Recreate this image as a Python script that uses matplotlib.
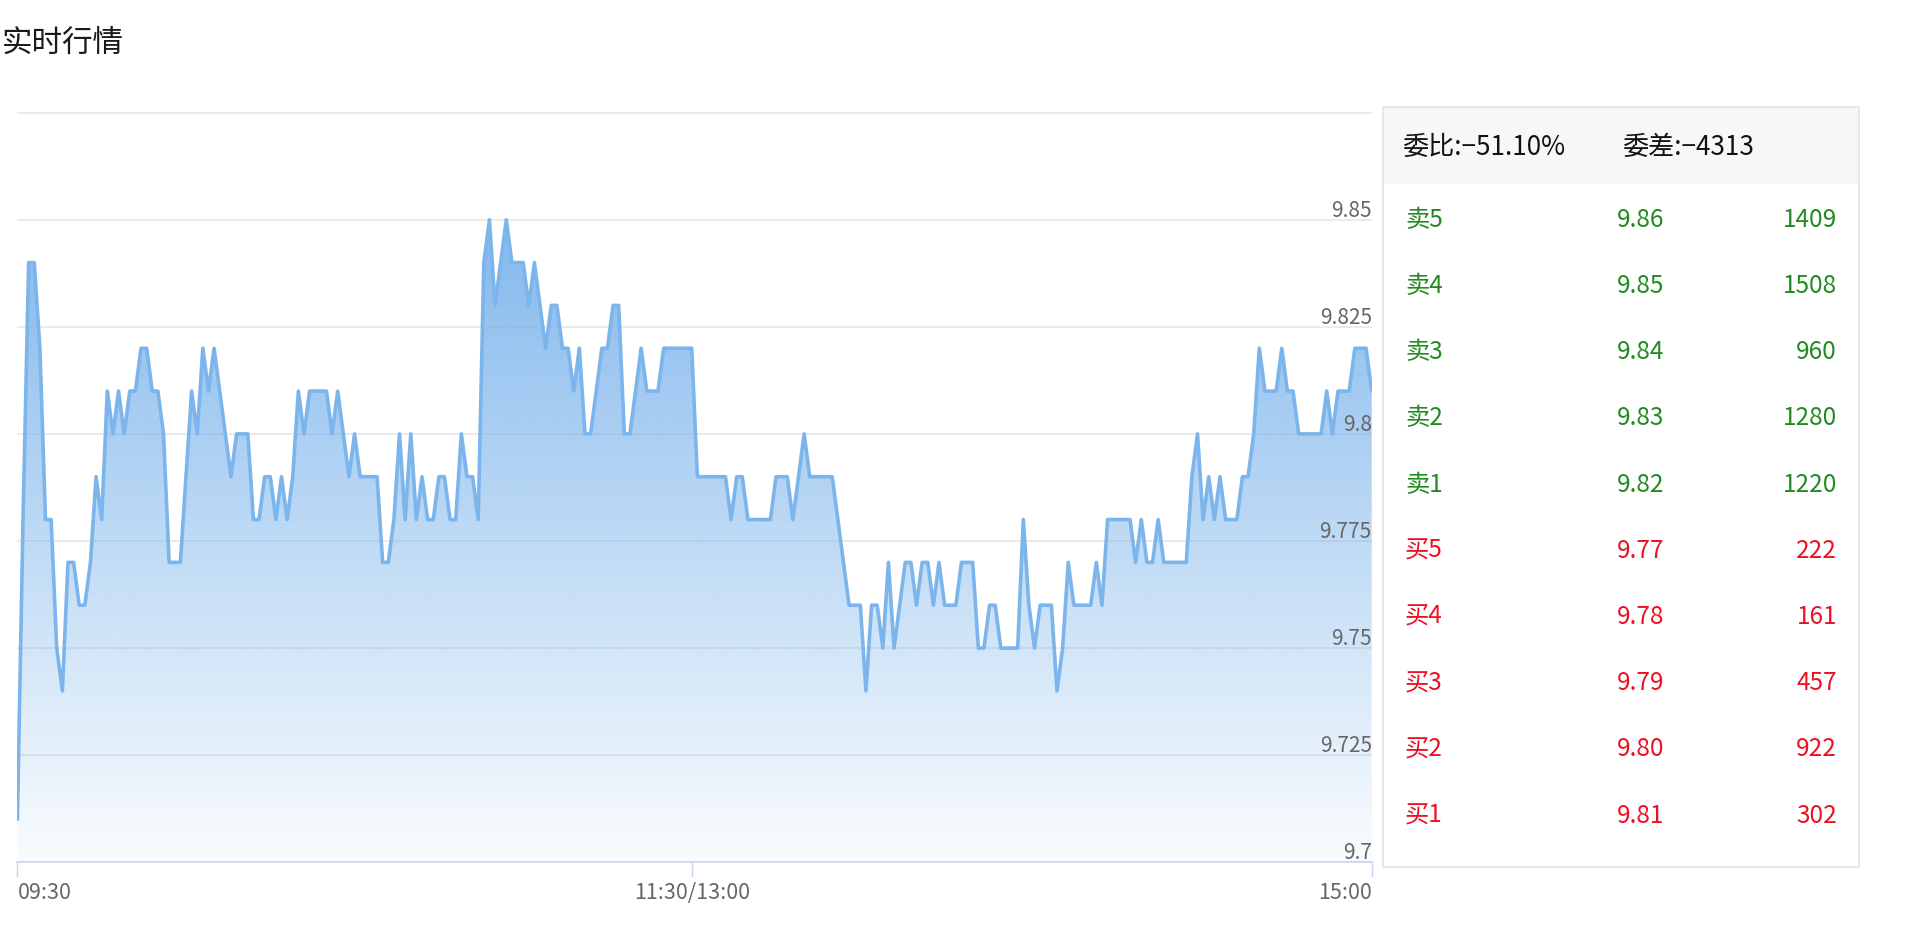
import numpy as np
import matplotlib
matplotlib.use('Agg')
import matplotlib.pyplot as plt
from matplotlib.patches import Rectangle, PathPatch

plt.rcParams['font.family'] = ['Noto Sans CJK SC', 'DejaVu Sans']

# ---------------- data ----------------
title = '实时行情'

prices = [
    9.71, 9.78, 9.84, 9.84, 9.82, 9.78, 9.78, 9.75, 9.74, 9.77,
    9.77, 9.76, 9.76, 9.77, 9.79, 9.78, 9.81, 9.80, 9.81, 9.80,
    9.81, 9.81, 9.82, 9.82, 9.81, 9.81, 9.80, 9.77, 9.77, 9.77,
    9.79, 9.81, 9.80, 9.82, 9.81, 9.82, 9.81, 9.80, 9.79, 9.80,
    9.80, 9.80, 9.78, 9.78, 9.79, 9.79, 9.78, 9.79, 9.78, 9.79,
    9.81, 9.80, 9.81, 9.81, 9.81, 9.81, 9.80, 9.81, 9.80, 9.79,
    9.80, 9.79, 9.79, 9.79, 9.79, 9.77, 9.77, 9.78, 9.80, 9.78,
    9.80, 9.78, 9.79, 9.78, 9.78, 9.79, 9.79, 9.78, 9.78, 9.80,
    9.79, 9.79, 9.78, 9.84, 9.85, 9.83, 9.84, 9.85, 9.84, 9.84,
    9.84, 9.83, 9.84, 9.83, 9.82, 9.83, 9.83, 9.82, 9.82, 9.81,
    9.82, 9.80, 9.80, 9.81, 9.82, 9.82, 9.83, 9.83, 9.80, 9.80,
    9.81, 9.82, 9.81, 9.81, 9.81, 9.82, 9.82, 9.82, 9.82, 9.82,
    9.82, 9.79, 9.79, 9.79, 9.79, 9.79, 9.79, 9.78, 9.79, 9.79,
    9.78, 9.78, 9.78, 9.78, 9.78, 9.79, 9.79, 9.79, 9.78, 9.79,
    9.80, 9.79, 9.79, 9.79, 9.79, 9.79, 9.78, 9.77, 9.76, 9.76,
    9.76, 9.74, 9.76, 9.76, 9.75, 9.77, 9.75, 9.76, 9.77, 9.77,
    9.76, 9.77, 9.77, 9.76, 9.77, 9.76, 9.76, 9.76, 9.77, 9.77,
    9.77, 9.75, 9.75, 9.76, 9.76, 9.75, 9.75, 9.75, 9.75, 9.78,
    9.76, 9.75, 9.76, 9.76, 9.76, 9.74, 9.75, 9.77, 9.76, 9.76,
    9.76, 9.76, 9.77, 9.76, 9.78, 9.78, 9.78, 9.78, 9.78, 9.77,
    9.78, 9.77, 9.77, 9.78, 9.77, 9.77, 9.77, 9.77, 9.77, 9.79,
    9.80, 9.78, 9.79, 9.78, 9.79, 9.78, 9.78, 9.78, 9.79, 9.79,
    9.80, 9.82, 9.81, 9.81, 9.81, 9.82, 9.81, 9.81, 9.80, 9.80,
    9.80, 9.80, 9.80, 9.81, 9.80, 9.81, 9.81, 9.81, 9.82, 9.82,
    9.82, 9.81,
]

x_tick_index = [0, 120, 241]
x_tick_labels = ['09:30', '11:30/13:00', '15:00']
x_tick_align = ['left', 'center', 'right']

y_ticks = [9.7, 9.725, 9.75, 9.775, 9.8, 9.825, 9.85, 9.875]
y_tick_labels = ['9.7', '9.725', '9.75', '9.775', '9.8', '9.825', '9.85', '']

wei_bi = '委比:−51.10%'
wei_cha = '委差:−4313'
book_labels = ['卖5', '卖4', '卖3', '卖2', '卖1', '买5', '买4', '买3', '买2', '买1']
book_prices = ['9.86', '9.85', '9.84', '9.83', '9.82', '9.77', '9.78', '9.79', '9.80', '9.81']
book_volumes = [1409, 1508, 960, 1280, 1220, 222, 161, 457, 922, 302]

# ---------------- figure ----------------
W, H = 1920, 932
fig = plt.figure(figsize=(W / 100, H / 100), dpi=100)
fig.patch.set_facecolor('white')

L, R, T, B = 17.4, 1371.7, 111.8, 862.2
ax = fig.add_axes([L / W, 1 - B / H, (R - L) / W, (B - T) / H])
x = np.arange(len(prices))
y0, y1 = 9.7, 9.875

LINE = '#7cb5ec'
LABEL = '#666666'

# gradient area fill
poly = ax.fill_between(x, prices, y0, facecolor='none', edgecolor='none')
clip = PathPatch(poly.get_paths()[0], transform=ax.transData,
                 facecolor='none', edgecolor='none')
ax.add_patch(clip)
n = 256
grad = np.linspace(0, 1, n).reshape(-1, 1)
img = np.zeros((n, 1, 4))
img[..., 0] = 120 / 255
img[..., 1] = 178 / 255
img[..., 2] = 235 / 255
img[..., 3] = 0.04 + 0.88 * grad
im = ax.imshow(img, extent=[0, len(prices) - 1, y0, max(prices)], origin='lower',
               aspect='auto', zorder=1, interpolation='bilinear')
im.set_clip_path(clip)

ax.plot(x, prices, color=LINE, lw=2.6, zorder=3, solid_joinstyle='round',
        solid_capstyle='round')

ax.set_xlim(0, len(prices) - 1)
ax.set_ylim(y0, y1 + 0.0002)

ax.set_yticks(y_ticks)
ax.yaxis.grid(True, color='#e6e6e6', lw=1.1, zorder=0)
ax.set_axisbelow(True)
ax.tick_params(axis='y', left=False, labelleft=False)

for v, lab in zip(y_ticks, y_tick_labels):
    if lab:
        ax.annotate(lab, xy=(1, v), xycoords=('axes fraction', 'data'),
                    xytext=(0, -2), textcoords='offset pixels',
                    ha='right', va='bottom', fontsize=15, color=LABEL, zorder=4)

for s in ['top', 'left', 'right']:
    ax.spines[s].set_visible(False)
ax.spines['bottom'].set_color('#ccd6eb')
ax.spines['bottom'].set_linewidth(1.2)

ax.set_xticks(x_tick_index)
ax.tick_params(axis='x', length=10.5, width=1, color='#ccd6eb', labelbottom=False)
for idx, lab, ha in zip(x_tick_index, x_tick_labels, x_tick_align):
    ax.annotate(lab, xy=(idx, 0), xycoords=('data', 'axes fraction'),
                xytext=(0, -31), textcoords='offset pixels',
                ha=ha, va='center', fontsize=15.5, color=LABEL, annotation_clip=False)

# ---------------- overlay (title + order book) ----------------
ov = fig.add_axes([0, 0, 1, 1], zorder=5)
ov.set_xlim(0, W)
ov.set_ylim(H, 0)
ov.axis('off')
ov.patch.set_alpha(0)

ov.text(2, 43, title, fontsize=22, ha='left', va='center', color='#1a1a1a')

PX0, PY0, PX1, PY1 = 1382.5, 106.5, 1858.8, 867.0
ov.add_patch(Rectangle((PX0, PY0), PX1 - PX0, 77, facecolor='#f7f7f7',
                       edgecolor='none'))
ov.add_patch(Rectangle((PX0, PY0), PX1 - PX0, PY1 - PY0, fill=False,
                       edgecolor='#e4e4e4', lw=1.2))

ov.text(1402, 147, wei_bi, fontsize=18.8, ha='left', va='center', color='#111111')
ov.text(1622, 147, wei_cha, fontsize=18.8, ha='left', va='center', color='#111111')

GREEN = '#218a21'
RED = '#ec1023'
for k, (lab, pr, vol) in enumerate(zip(book_labels, book_prices, book_volumes)):
    yy = 219.8 + 66.2 * k
    c = GREEN if k < 5 else RED
    ov.text(1405, yy, lab, fontsize=17.5, ha='left', va='center', color=c)
    ov.text(1617, yy, pr, fontsize=17.5, ha='left', va='center', color=c)
    ov.text(1837, yy, str(vol), fontsize=17.5, ha='right', va='center', color=c)

fig.savefig('out.png', dpi=100, facecolor='white')
